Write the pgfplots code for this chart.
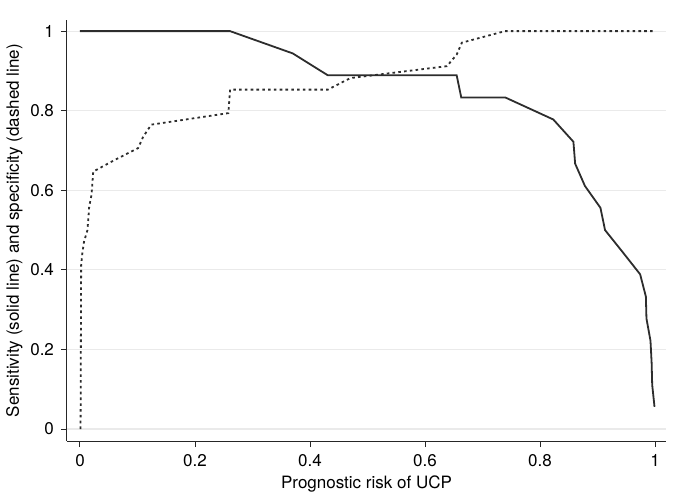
\documentclass[border=0pt]{standalone}
\usepackage{fontspec}
\setmainfont{TeX Gyre Heros}
\usepackage{pgfplots}
\pgfplotsset{compat=1.18}
\definecolor{gridgray}{RGB}{234,234,234}
\definecolor{curve}{RGB}{45,45,45}
\begin{document}
\begin{tikzpicture}
\begin{axis}[
  scale only axis,
  width=299.5pt, height=210.5pt,
  xmin=-0.0226, xmax=1.019,
  ymin=-0.030, ymax=1.028,
  axis x line=bottom, axis y line=left,
  axis line style={-, line width=0.5pt, black!85},
  xtick={0,0.2,0.4,0.6,0.8,1},
  xticklabels={0,0.2,0.4,0.6,0.8,1},
  ytick={0,0.2,0.4,0.6,0.8,1},
  yticklabels={0,0.2,0.4,0.6,0.8,1},
  tick align=outside,
  major tick length=3pt,
  tick style={line width=0.5pt, black!85},
  ymajorgrids,
  grid style={gridgray, line width=0.6pt},
  ticklabel style={font=\fontsize{8.5}{10}\selectfont},
  /pgf/number format/assume math mode=true,
  xlabel={Prognostic risk of UCP},
  ylabel={Sensitivity (solid line) and specificity (dashed line)},
  label style={font=\fontsize{8.5}{10}\selectfont},
  xlabel style={yshift=2pt},
  ylabel style={yshift=-3pt},
  clip=false,
]
% sensitivity
\addplot[curve, line width=0.9pt] coordinates {
  (0.000,1.000) (0.005,1.000) (0.040,1.000) (0.100,1.000) (0.160,1.000)
  (0.261,1.000) (0.370,0.944) (0.431,0.889) (0.655,0.889) (0.663,0.833)
  (0.740,0.833) (0.823,0.778) (0.858,0.722) (0.861,0.667) (0.878,0.611)
  (0.905,0.556) (0.913,0.500) (0.944,0.444) (0.974,0.389) (0.984,0.333)
  (0.985,0.278) (0.992,0.222) (0.994,0.167) (0.995,0.111) (0.999,0.056)
};
% specificity
\addplot[curve, line width=0.9pt, dash pattern=on 1.3pt off 1.6pt] coordinates {
  (0.001,0.000) (0.002,0.412) (0.004,0.441) (0.007,0.471) (0.013,0.500)
  (0.016,0.559) (0.020,0.588) (0.023,0.647) (0.060,0.676) (0.101,0.706)
  (0.110,0.735) (0.124,0.765) (0.258,0.794) (0.261,0.853) (0.431,0.853)
  (0.470,0.882) (0.638,0.912) (0.655,0.941) (0.664,0.971) (0.739,1.000)
  (1.000,1.000)
};
\end{axis}
\pgfresetboundingbox
\path[use as bounding box] (current axis.south west) ++(-33.5pt,-31pt)
  rectangle ([shift={(4pt,10pt)}]current axis.north east);
\end{tikzpicture}
\end{document}
